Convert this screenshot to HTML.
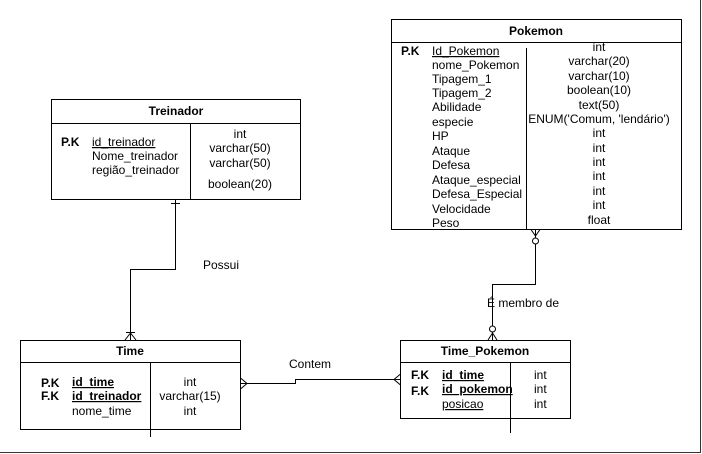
<!DOCTYPE html>
<html><head><meta charset="utf-8"><style>
html,body{margin:0;padding:0;background:#fff;}
svg{display:block;font-family:"Liberation Sans",sans-serif;font-size:12px;}
</style></head><body>
<svg width="702" height="454" viewBox="0 0 702 454" xmlns="http://www.w3.org/2000/svg">
<g fill="none" stroke="#000" stroke-width="1">
<line x1="700.5" y1="0" x2="700.5" y2="453" stroke="#333"/>
<line x1="0" y1="452.5" x2="701" y2="452.5" stroke="#333"/>
<rect x="391.5" y="19.5" width="290" height="210"/>
<line x1="391.5" y1="42.5" x2="681.5" y2="42.5"/>
<line x1="526.5" y1="48" x2="526.5" y2="229"/>
<rect x="51.5" y="99.5" width="249" height="100"/>
<line x1="51.5" y1="123.5" x2="300.5" y2="123.5"/>
<line x1="190.5" y1="123.5" x2="190.5" y2="199.5"/>
<rect x="20.5" y="340.5" width="220" height="89"/>
<line x1="20.5" y1="362.5" x2="240.5" y2="362.5"/>
<line x1="150.5" y1="362.5" x2="150.5" y2="437"/>
<rect x="400.5" y="340.5" width="170" height="78"/>
<line x1="400.5" y1="362.5" x2="570.5" y2="362.5"/>
<line x1="510.5" y1="362.5" x2="510.5" y2="433"/>
<polyline points="175.5,199.5 175.5,269.5 130.5,269.5 130.5,340"/>
<line x1="171" y1="203.5" x2="180" y2="203.5"/>
<line x1="126" y1="332.5" x2="135" y2="332.5"/>
<polyline points="125,340 130.5,333 136,340"/>
<polyline points="535.5,229.5 535.5,284.5 492.5,284.5 492.5,340"/>
<polyline points="531,229.5 535.5,236 540,229.5"/>
<circle cx="535.5" cy="241" r="3" fill="#fff"/>
<circle cx="492.5" cy="329" r="3" fill="#fff"/>
<polyline points="488,340 492.5,333 497,340"/>
<polyline points="240.5,383.5 295.5,383.5 295.5,379.5 400.5,379.5"/>
<polyline points="240.5,378 247,383.5 240.5,389"/>
<polyline points="400.5,374 394,379.5 400.5,385"/>
</g>
<g fill="#000">
<text x="536" y="35" text-anchor="middle" font-weight="bold">Pokemon</text>
<text x="401" y="55" font-weight="bold">P.K</text>
<g>
<text x="432" y="55" text-decoration="underline">Id_Pokemon</text>
<text x="432" y="69">nome_Pokemon</text>
<text x="432" y="83">Tipagem_1</text>
<text x="432" y="97">Tipagem_2</text>
<text x="432" y="111">Abilidade</text>
<text x="432" y="126">especie</text>
<text x="432" y="140">HP</text>
<text x="432" y="155">Ataque</text>
<text x="432" y="169">Defesa</text>
<text x="432" y="184">Ataque_especial</text>
<text x="432" y="198">Defesa_Especial</text>
<text x="432" y="213">Velocidade</text>
<text x="432" y="227">Peso</text>
</g>
<g text-anchor="middle">
<text x="599" y="51">int</text>
<text x="599" y="65">varchar(20)</text>
<text x="599" y="80">varchar(10)</text>
<text x="599" y="94">boolean(10)</text>
<text x="599" y="109">text(50)</text>
<text x="599" y="123">ENUM('Comum, 'lendário')</text>
<text x="599" y="137">int</text>
<text x="599" y="152">int</text>
<text x="599" y="166">int</text>
<text x="599" y="180">int</text>
<text x="599" y="195">int</text>
<text x="599" y="209">int</text>
<text x="599" y="224">float</text>
</g>
<text x="176" y="115" text-anchor="middle" font-weight="bold">Treinador</text>
<text x="61" y="146" font-weight="bold">P.K</text>
<text x="92" y="146" text-decoration="underline">id_treinador</text>
<text x="92" y="160">Nome_treinador</text>
<text x="92" y="174">região_treinador</text>
<g text-anchor="middle">
<text x="240" y="138">int</text>
<text x="240" y="152">varchar(50)</text>
<text x="240" y="167">varchar(50)</text>
<text x="240" y="188">boolean(20)</text>
</g>
<text x="203" y="269">Possui</text>
<text x="487" y="307">É membro de</text>
<text x="289" y="368">Contem</text>
<text x="130" y="355" text-anchor="middle" font-weight="bold">Time</text>
<text x="41" y="387" font-weight="bold">P.K</text>
<text x="41" y="400" font-weight="bold">F.K</text>
<text x="72" y="386" font-weight="bold" text-decoration="underline">id_time</text>
<text x="72" y="400" font-weight="bold" text-decoration="underline">id_treinador</text>
<text x="72" y="415">nome_time</text>
<g text-anchor="middle">
<text x="190" y="386">int</text>
<text x="190" y="400">varchar(15)</text>
<text x="190" y="415">int</text>
</g>
<text x="485" y="355" text-anchor="middle" font-weight="bold">Time_Pokemon</text>
<text x="411" y="379" font-weight="bold">F.K</text>
<text x="411" y="395" font-weight="bold">F.K</text>
<text x="442" y="379" font-weight="bold" text-decoration="underline">id_time</text>
<text x="442" y="393" font-weight="bold" text-decoration="underline">id_pokemon</text>
<text x="442" y="408" text-decoration="underline">posicao</text>
<text x="534" y="379">int</text>
<text x="534" y="393">int</text>
<text x="534" y="408">int</text>
</g>
</svg>
</body></html>
